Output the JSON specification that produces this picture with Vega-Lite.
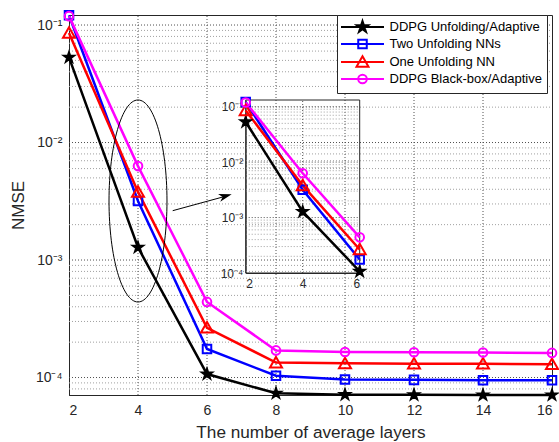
{
  "$schema": "https://vega.github.io/schema/vega-lite/v6.json",
  "width": 483,
  "height": 380,
  "autosize": {"type": "none"},
  "padding": {"left": 69, "top": 15, "right": 7, "bottom": 47},
  "background": "white",
  "config": {
    "font": "Liberation Sans",
    "view": {"stroke": "#262626", "strokeWidth": 1},
    "axis": {
      "labelColor": "#262626", "titleColor": "#262626", "domainColor": "#262626", "tickColor": "#262626",
      "labelFont": "Liberation Sans", "titleFont": "Liberation Sans", "titleFontWeight": "normal"
    },
    "legend": {
      "orient": "none", "legendX": 268, "legendY": 0,
      "strokeColor": "#262626", "fillColor": "white", "padding": 5,
      "labelFont": "Liberation Sans", "labelFontSize": 13, "labelColor": "#000000",
      "symbolSize": 144, "symbolStrokeWidth": 2,
      "rowPadding": -1, "symbolOffset": 13.5, "labelOffset": 20
    }
  },
  "datasets": {
    "curves": [
      {"series": "DDPG Unfolding/Adaptive", "layers": 2, "nmse": 0.053},
      {"series": "DDPG Unfolding/Adaptive", "layers": 4, "nmse": 0.00128},
      {"series": "DDPG Unfolding/Adaptive", "layers": 6, "nmse": 0.000107},
      {"series": "DDPG Unfolding/Adaptive", "layers": 8, "nmse": 0.0000735},
      {"series": "DDPG Unfolding/Adaptive", "layers": 10, "nmse": 0.0000715},
      {"series": "DDPG Unfolding/Adaptive", "layers": 12, "nmse": 0.0000712},
      {"series": "DDPG Unfolding/Adaptive", "layers": 14, "nmse": 0.000071},
      {"series": "DDPG Unfolding/Adaptive", "layers": 16, "nmse": 0.000071},
      {"series": "Two Unfolding NNs", "layers": 2, "nmse": 0.121},
      {"series": "Two Unfolding NNs", "layers": 4, "nmse": 0.00318},
      {"series": "Two Unfolding NNs", "layers": 6, "nmse": 0.000175},
      {"series": "Two Unfolding NNs", "layers": 8, "nmse": 0.0001035},
      {"series": "Two Unfolding NNs", "layers": 10, "nmse": 0.000096},
      {"series": "Two Unfolding NNs", "layers": 12, "nmse": 0.0000955},
      {"series": "Two Unfolding NNs", "layers": 14, "nmse": 0.000095},
      {"series": "Two Unfolding NNs", "layers": 16, "nmse": 0.000095},
      {"series": "One Unfolding NN", "layers": 2, "nmse": 0.0855},
      {"series": "One Unfolding NN", "layers": 4, "nmse": 0.0038},
      {"series": "One Unfolding NN", "layers": 6, "nmse": 0.000265},
      {"series": "One Unfolding NN", "layers": 8, "nmse": 0.000134},
      {"series": "One Unfolding NN", "layers": 10, "nmse": 0.000132},
      {"series": "One Unfolding NN", "layers": 12, "nmse": 0.000131},
      {"series": "One Unfolding NN", "layers": 14, "nmse": 0.000131},
      {"series": "One Unfolding NN", "layers": 16, "nmse": 0.00013},
      {"series": "DDPG Black-box/Adaptive", "layers": 2, "nmse": 0.119},
      {"series": "DDPG Black-box/Adaptive", "layers": 4, "nmse": 0.0063},
      {"series": "DDPG Black-box/Adaptive", "layers": 6, "nmse": 0.00044},
      {"series": "DDPG Black-box/Adaptive", "layers": 8, "nmse": 0.00017},
      {"series": "DDPG Black-box/Adaptive", "layers": 10, "nmse": 0.000165},
      {"series": "DDPG Black-box/Adaptive", "layers": 12, "nmse": 0.000164},
      {"series": "DDPG Black-box/Adaptive", "layers": 14, "nmse": 0.000163},
      {"series": "DDPG Black-box/Adaptive", "layers": 16, "nmse": 0.000162}
    ]
  },
  "data": {"name": "curves"},
  "resolve": {"scale": {"x": "independent", "y": "independent"}},
  "layer": [
    {
      "layer": [
        {
          "data": {"values": [
            {"g": 0.00008}, {"g": 0.00009},
            {"g": 0.0002}, {"g": 0.0003}, {"g": 0.0004}, {"g": 0.0005}, {"g": 0.0006}, {"g": 0.0007}, {"g": 0.0008}, {"g": 0.0009},
            {"g": 0.002}, {"g": 0.003}, {"g": 0.004}, {"g": 0.005}, {"g": 0.006}, {"g": 0.007}, {"g": 0.008}, {"g": 0.009},
            {"g": 0.02}, {"g": 0.03}, {"g": 0.04}, {"g": 0.05}, {"g": 0.06}, {"g": 0.07}, {"g": 0.08}, {"g": 0.09}
          ]},
          "mark": {"type": "rule", "stroke": "#a0a0a0", "strokeWidth": 1, "strokeDash": [1, 2]},
          "encoding": {
            "y": {"field": "g", "type": "quantitative"},
            "x": {"datum": 2, "type": "quantitative"},
            "x2": {"datum": 16}
          }
        },
        {
          "data": {"values": [{"g": 0.1}, {"g": 0.01}, {"g": 0.001}, {"g": 0.0001}]},
          "mark": {"type": "rule", "stroke": "#505050", "strokeWidth": 1, "strokeDash": [1, 2]},
          "encoding": {
            "y": {"field": "g", "type": "quantitative"},
            "x": {"datum": 2, "type": "quantitative"},
            "x2": {"datum": 16}
          }
        },
        {
          "data": {"values": [{"g": 4}, {"g": 6}, {"g": 8}, {"g": 10}, {"g": 12}, {"g": 14}]},
          "mark": {"type": "rule", "stroke": "#505050", "strokeWidth": 1, "strokeDash": [1, 2]},
          "encoding": {
            "x": {"field": "g", "type": "quantitative"},
            "y": {"datum": 0.000071, "type": "quantitative"},
            "y2": {"datum": 0.1217}
          }
        },
        {
          "mark": {"type": "line", "strokeWidth": 2.5, "clip": false},
          "encoding": {
            "x": {
              "field": "layers", "type": "quantitative",
              "scale": {"domain": [2, 16], "nice": false, "zero": false},
              "axis": {
                "orient": "bottom", "values": [2, 4, 6, 8, 10, 12, 14, 16], "format": "d",
                "title": "The number of average layers", "titleFontSize": 17.2, "titlePadding": 6,
                "labelFontSize": 14, "labelPadding": 8, "ticks": false,
                "grid": false
              }
            },
            "y": {
              "field": "nmse", "type": "quantitative",
              "scale": {"type": "log", "domain": [0.000071, 0.1217], "nice": false},
              "axis": {
                "orient": "left",
                "values": [0.0001, 0.001, 0.01, 0.1],
                "labelExpr": "datum.value == 0.1 ? '10⁻¹' : datum.value == 0.01 ? '10⁻²' : datum.value == 0.001 ? '10⁻³' : datum.value == 0.0001 ? '10⁻⁴' : ''",
                "title": "NMSE", "titleFontSize": 17, "titlePadding": 8,
                "labelFontSize": 14, "labelPadding": 7, "ticks": false,
                "grid": false
              }
            },
            "color": {
              "field": "series", "type": "nominal",
              "scale": {"domain": ["DDPG Unfolding/Adaptive", "Two Unfolding NNs", "One Unfolding NN", "DDPG Black-box/Adaptive"], "range": ["#000000", "#0000FF", "#FF0000", "#FF00FF"]},
              "legend": {"title": null}
            }
          }
        },
        {
          "transform": [{"filter": "datum.series == 'DDPG Unfolding/Adaptive'"}],
          "mark": {"type": "point", "shape": "M0,-1L0.225,-0.309L0.951,-0.309L0.363,0.118L0.588,0.809L0,0.382L-0.588,0.809L-0.363,0.118L-0.951,-0.309L-0.225,-0.309Z", "size": 144, "filled": false, "fill": "#000000", "stroke": "#000000", "strokeWidth": 1.5, "opacity": 1, "clip": false},
          "encoding": {"x": {"field": "layers", "type": "quantitative"}, "y": {"field": "nmse", "type": "quantitative"}}
        },
        {
          "transform": [{"filter": "datum.series == 'Two Unfolding NNs'"}],
          "mark": {"type": "point", "shape": "M-0.71,-0.71H0.71V0.71H-0.71Z", "size": 144, "filled": false, "stroke": "#0000FF", "strokeWidth": 2, "opacity": 1, "clip": false},
          "encoding": {"x": {"field": "layers", "type": "quantitative"}, "y": {"field": "nmse", "type": "quantitative"}}
        },
        {
          "transform": [{"filter": "datum.series == 'One Unfolding NN'"}],
          "mark": {"type": "point", "shape": "M0,-0.95L1,0.8L-1,0.8Z", "size": 144, "filled": false, "stroke": "#FF0000", "strokeWidth": 2, "opacity": 1, "clip": false},
          "encoding": {"x": {"field": "layers", "type": "quantitative"}, "y": {"field": "nmse", "type": "quantitative"}}
        },
        {
          "transform": [{"filter": "datum.series == 'DDPG Black-box/Adaptive'"}],
          "mark": {"type": "point", "shape": "M0.72,0A0.72,0.72 0 1,1 -0.72,0A0.72,0.72 0 1,1 0.72,0Z", "size": 144, "filled": false, "stroke": "#FF00FF", "strokeWidth": 2, "opacity": 1, "clip": false},
          "encoding": {"x": {"field": "layers", "type": "quantitative"}, "y": {"field": "nmse", "type": "quantitative"}}
        },
        {
          "transform": [{"filter": "false"}],
          "mark": {"type": "point", "filled": false, "size": 144, "strokeWidth": 2, "opacity": 1, "clip": false},
          "encoding": {
            "x": {"field": "layers", "type": "quantitative"},
            "y": {"field": "nmse", "type": "quantitative"},
            "color": {"field": "series", "type": "nominal", "legend": {"title": null}},
            "fill": {
              "field": "series", "type": "nominal",
              "scale": {"domain": ["DDPG Unfolding/Adaptive", "Two Unfolding NNs", "One Unfolding NN", "DDPG Black-box/Adaptive"], "range": ["#000000", "transparent", "transparent", "transparent"]},
              "legend": {"title": null}
            },
            "shape": {
              "field": "series", "type": "nominal",
              "scale": {
                "domain": ["DDPG Unfolding/Adaptive", "Two Unfolding NNs", "One Unfolding NN", "DDPG Black-box/Adaptive"],
                "range": [
                  "M-3.58,0L3.58,0M0,-1L0.225,-0.309L0.951,-0.309L0.363,0.118L0.588,0.809L0,0.382L-0.588,0.809L-0.363,0.118L-0.951,-0.309L-0.225,-0.309Z",
                  "M-3.58,0L3.58,0M-0.71,-0.71H0.71V0.71H-0.71Z",
                  "M-3.58,0L3.58,0M0,-0.95L1,0.8L-1,0.8Z",
                  "M-3.58,0L3.58,0M0.72,0A0.72,0.72 0 1,1 -0.72,0A0.72,0.72 0 1,1 0.72,0Z"
                ]
              },
              "legend": {"title": null}
            }
          }
        },
        {
          "data": {"values": [{}]},
          "mark": {"type": "point", "shape": "M0,-1A0.287,1 0 1,1 0,1A0.287,1 0 1,1 0,-1Z", "size": 40804, "filled": false, "stroke": "#000000", "strokeWidth": 1, "opacity": 1, "clip": false},
          "encoding": {
            "x": {"datum": 4, "type": "quantitative"},
            "y": {"datum": 0.00318, "type": "quantitative"}
          }
        },
        {
          "data": {"values": [{}]},
          "mark": {"type": "rule", "stroke": "#000000", "strokeWidth": 1, "clip": false},
          "encoding": {
            "x": {"datum": 5.006, "type": "quantitative"},
            "x2": {"datum": 6.6},
            "y": {"datum": 0.00263, "type": "quantitative"},
            "y2": {"datum": 0.00353}
          }
        },
        {
          "data": {"values": [{}]},
          "mark": {"type": "point", "shape": "M0,0L-2,-0.62L-1.45,0L-2,0.62Z", "size": 169, "filled": true, "fill": "#000000", "strokeWidth": 0, "angle": -15.5, "opacity": 1, "clip": false},
          "encoding": {
            "x": {"datum": 6.716, "type": "quantitative"},
            "y": {"datum": 0.00362, "type": "quantitative"}
          }
        }
      ]
    },
    {
      "layer": [
        {
          "data": {"values": [
            {"g": 0.0002}, {"g": 0.0003}, {"g": 0.0004}, {"g": 0.0005}, {"g": 0.0006}, {"g": 0.0007}, {"g": 0.0008}, {"g": 0.0009},
            {"g": 0.002}, {"g": 0.003}, {"g": 0.004}, {"g": 0.005}, {"g": 0.006}, {"g": 0.007}, {"g": 0.008}, {"g": 0.009},
            {"g": 0.02}, {"g": 0.03}, {"g": 0.04}, {"g": 0.05}, {"g": 0.06}, {"g": 0.07}, {"g": 0.08}, {"g": 0.09}
          ]},
          "mark": {"type": "rule", "stroke": "#a0a0a0", "strokeWidth": 1, "strokeDash": [1, 2]},
          "encoding": {
            "y": {"field": "g", "type": "quantitative", "scale": {"type": "log", "domain": [0.0001, 0.132], "nice": false, "range": [258, 85]}},
            "x": {"datum": 2, "type": "quantitative", "scale": {"domain": [2, 6], "range": [176.7, 290.7], "nice": false, "zero": false}},
            "x2": {"datum": 6}
          }
        },
        {
          "data": {"values": [{"g": 0.1}, {"g": 0.01}, {"g": 0.001}]},
          "mark": {"type": "rule", "stroke": "#505050", "strokeWidth": 1, "strokeDash": [1, 2]},
          "encoding": {
            "y": {"field": "g", "type": "quantitative"},
            "x": {"datum": 2, "type": "quantitative"},
            "x2": {"datum": 6}
          }
        },
        {
          "data": {"values": [{"g": 4}]},
          "mark": {"type": "rule", "stroke": "#505050", "strokeWidth": 1, "strokeDash": [1, 2]},
          "encoding": {
            "x": {"field": "g", "type": "quantitative"},
            "y": {"datum": 0.0001, "type": "quantitative"},
            "y2": {"datum": 0.132}
          }
        },
        {
          "data": {"values": [{}]},
          "mark": {"type": "rect", "fill": "transparent", "stroke": "#262626", "strokeWidth": 1, "clip": false},
          "encoding": {
            "x": {"datum": 2, "type": "quantitative"},
            "x2": {"datum": 6},
            "y": {"datum": 0.0001, "type": "quantitative"},
            "y2": {"datum": 0.132}
          }
        },
        {
          "transform": [{"filter": "datum.layers <= 6"}],
          "mark": {"type": "line", "strokeWidth": 2.5, "clip": false},
          "encoding": {
            "x": {
              "field": "layers", "type": "quantitative",
              "scale": {"domain": [2, 6], "range": [176.7, 290.7], "nice": false, "zero": false},
              "axis": {
                "orient": "bottom", "offset": -122, "values": [2, 4, 6], "format": "d", "title": null,
                "labelFontSize": 12, "labelPadding": 5, "ticks": false, "grid": false
              }
            },
            "y": {
              "field": "nmse", "type": "quantitative",
              "scale": {"type": "log", "domain": [0.0001, 0.132], "nice": false, "range": [258, 85]},
              "axis": {
                "orient": "left", "offset": -176.7, "title": null,
                "values": [0.0001, 0.001, 0.01, 0.1],
                "labelExpr": "datum.value == 0.1 ? '10⁻¹' : datum.value == 0.01 ? '10⁻²' : datum.value == 0.001 ? '10⁻³' : datum.value == 0.0001 ? '10⁻⁴' : ''",
                "labelFontSize": 12, "labelPadding": 3, "ticks": false, "grid": false
              }
            },
            "color": {"field": "series", "type": "nominal", "legend": {"title": null}}
          }
        },
        {
          "transform": [{"filter": "datum.layers <= 6 && datum.series == 'DDPG Unfolding/Adaptive'"}],
          "mark": {"type": "point", "shape": "M0,-1L0.225,-0.309L0.951,-0.309L0.363,0.118L0.588,0.809L0,0.382L-0.588,0.809L-0.363,0.118L-0.951,-0.309L-0.225,-0.309Z", "size": 144, "filled": false, "fill": "#000000", "stroke": "#000000", "strokeWidth": 1.5, "opacity": 1, "clip": false},
          "encoding": {"x": {"field": "layers", "type": "quantitative"}, "y": {"field": "nmse", "type": "quantitative"}}
        },
        {
          "transform": [{"filter": "datum.layers <= 6 && datum.series == 'Two Unfolding NNs'"}],
          "mark": {"type": "point", "shape": "M-0.71,-0.71H0.71V0.71H-0.71Z", "size": 144, "filled": false, "stroke": "#0000FF", "strokeWidth": 2, "opacity": 1, "clip": false},
          "encoding": {"x": {"field": "layers", "type": "quantitative"}, "y": {"field": "nmse", "type": "quantitative"}}
        },
        {
          "transform": [{"filter": "datum.layers <= 6 && datum.series == 'One Unfolding NN'"}],
          "mark": {"type": "point", "shape": "M0,-0.95L1,0.8L-1,0.8Z", "size": 144, "filled": false, "stroke": "#FF0000", "strokeWidth": 2, "opacity": 1, "clip": false},
          "encoding": {"x": {"field": "layers", "type": "quantitative"}, "y": {"field": "nmse", "type": "quantitative"}}
        },
        {
          "transform": [{"filter": "datum.layers <= 6 && datum.series == 'DDPG Black-box/Adaptive'"}],
          "mark": {"type": "point", "shape": "M0.72,0A0.72,0.72 0 1,1 -0.72,0A0.72,0.72 0 1,1 0.72,0Z", "size": 144, "filled": false, "stroke": "#FF00FF", "strokeWidth": 2, "opacity": 1, "clip": false},
          "encoding": {"x": {"field": "layers", "type": "quantitative"}, "y": {"field": "nmse", "type": "quantitative"}}
        }
      ]
    }
  ]
}
